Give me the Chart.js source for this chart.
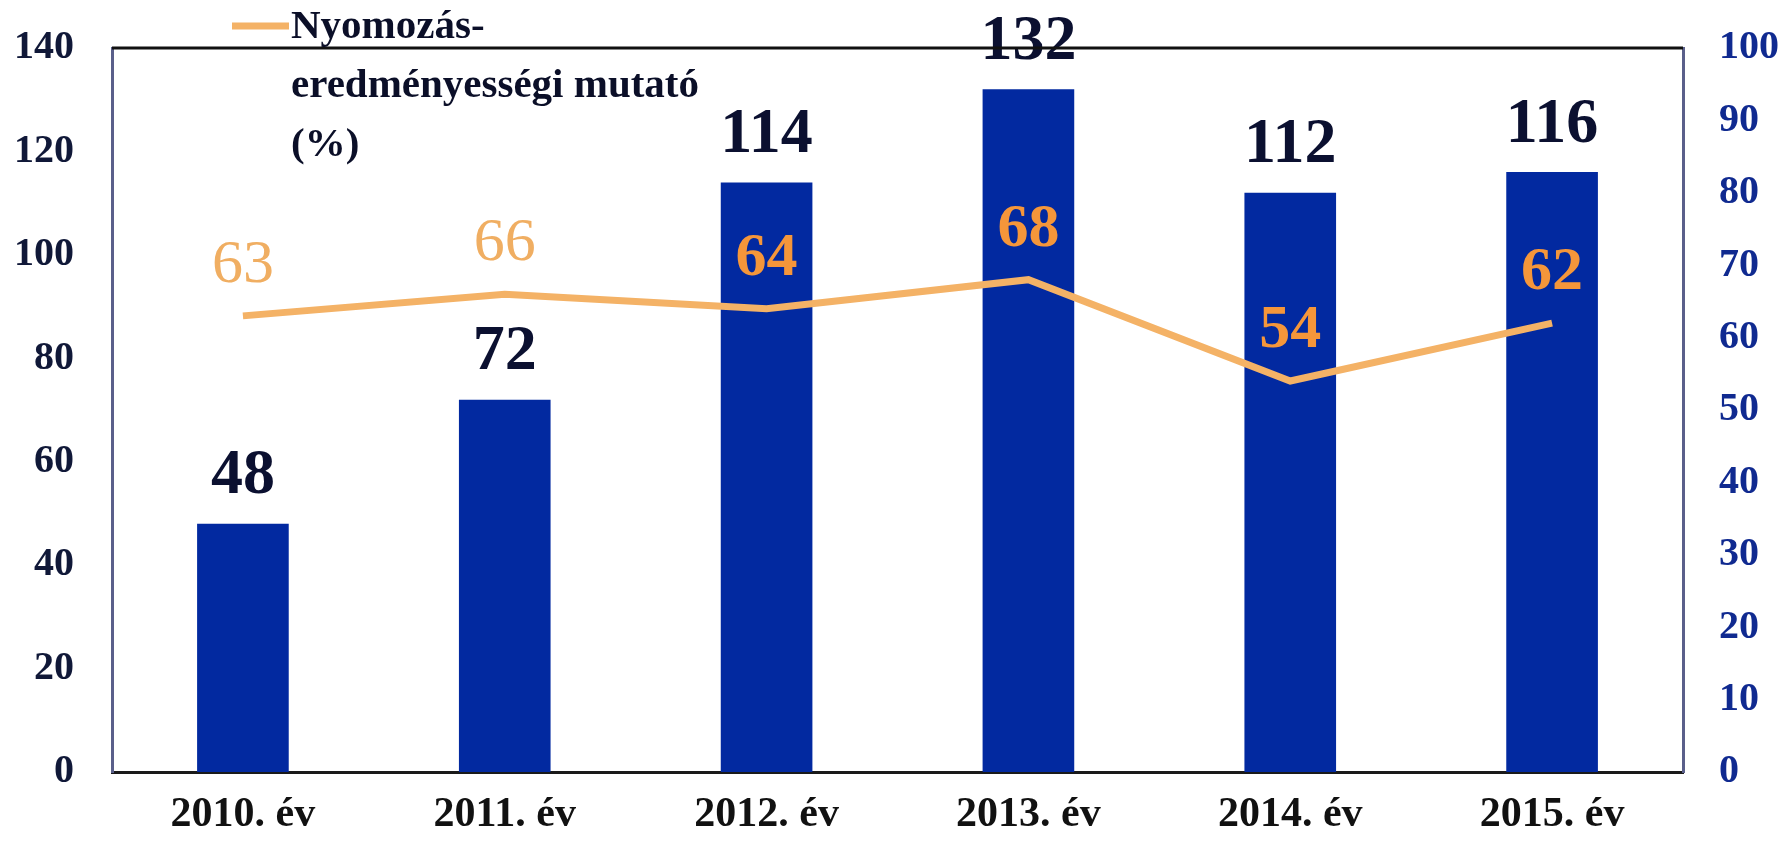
<!DOCTYPE html>
<html lang="hu">
<head>
<meta charset="utf-8">
<title>Nyomozás-eredményességi mutató</title>
<script src="https://cdn.jsdelivr.net/npm/chart.js@4"></script>
<style>
    html, body { margin: 0; padding: 0; background: #ffffff; }
    #wrap { position: relative; width: 1792px; height: 845px; }
</style>
</head>
<body>
<div id="wrap"><canvas id="chart"></canvas></div>
<script>
// Chart data
const years = ['2010. év', '2011. év', '2012. év', '2013. év', '2014. év', '2015. év'];
const caseCounts = [48, 72, 114, 132, 112, 116];
const successRate = [63, 66, 64, 68, 54, 62];
const leftTicks = [0, 20, 40, 60, 80, 100, 120, 140];
const rightTicks = [0, 10, 20, 30, 40, 50, 60, 70, 80, 90, 100];
const legendLines = ['Nyomozás-', 'eredményességi mutató', '(%)'];

const serif = "'Liberation Serif', 'Times New Roman', serif";
const barColor = '#0229a0';
const lineColor = '#f4b266';

// Value labels above bars and line points
const valueLabels = {
    id: 'valueLabels',
    afterDatasetsDraw(chart) {
        const ctx = chart.ctx;
        ctx.save();
        ctx.textAlign = 'center';
        ctx.textBaseline = 'middle';

        const bars = chart.getDatasetMeta(0).data;
        ctx.font = 'bold 64px ' + serif;
        ctx.fillStyle = '#0b1030';
        bars.forEach((bar, i) => {
            ctx.fillText(String(caseCounts[i]), bar.x, bar.y - 47);
        });

        const points = chart.getDatasetMeta(1).data;
        points.forEach((pt, i) => {
            // first two labels sit on white and look lighter in the original
            if (i < 2) {
                ctx.font = '62px ' + serif;
                ctx.fillStyle = '#f0ae62';
            } else {
                ctx.font = 'bold 62px ' + serif;
                ctx.fillStyle = '#f5963a';
            }
            ctx.fillText(String(successRate[i]), pt.x, pt.y - 50);
        });
        ctx.restore();
    }
};

// Top frame line and the legend inside the plot
const frameAndLegend = {
    id: 'frameAndLegend',
    afterDraw(chart) {
        const ctx = chart.ctx;
        const area = chart.chartArea;
        ctx.save();
        ctx.strokeStyle = '#111111';
        ctx.lineWidth = 3;
        ctx.beginPath();
        ctx.moveTo(area.left, area.top);
        ctx.lineTo(area.right, area.top);
        ctx.stroke();

        // legend sample line
        ctx.strokeStyle = lineColor;
        ctx.lineWidth = 7;
        ctx.beginPath();
        ctx.moveTo(232, 26);
        ctx.lineTo(289, 26);
        ctx.stroke();

        ctx.font = 'bold 41px ' + serif;
        ctx.fillStyle = '#0b0f28';
        ctx.textAlign = 'left';
        ctx.textBaseline = 'middle';
        legendLines.forEach((line, i) => {
            ctx.fillText(line, 291, 27 + i * 59);
        });
        ctx.restore();
    }
};

// keep the plot box where the original has it
function noLabelOverflow(scale) {
    scale.paddingTop = 0;
    scale.paddingBottom = 0;
}

const chart = new Chart(document.getElementById('chart'), {
    data: {
        labels: years,
        datasets: [
            {
                type: 'bar',
                label: 'Ügyek',
                data: caseCounts,
                backgroundColor: barColor,
                borderWidth: 0,
                barPercentage: 0.35,
                categoryPercentage: 1,
                yAxisID: 'y',
                order: 2
            },
            {
                type: 'line',
                label: 'Nyomozás-eredményességi mutató (%)',
                data: successRate,
                borderColor: lineColor,
                borderWidth: 7,
                pointRadius: 0,
                tension: 0,
                yAxisID: 'y1',
                order: 1
            }
        ]
    },
    options: {
        responsive: true,
        maintainAspectRatio: false,
        animation: false,
        layout: { padding: { top: 48, left: 0, right: 0, bottom: 0 } },
        plugins: {
            legend: { display: false },
            tooltip: { enabled: false }
        },
        scales: {
            x: {
                offset: true,
                grid: { display: false, drawTicks: false },
                border: { display: true, color: '#1a1a1a', width: 3 },
                ticks: {
                    color: '#111111',
                    padding: 18,
                    font: { family: serif, size: 42, weight: 'bold' }
                },
                afterFit(scale) {
                    scale.height = 73;
                    scale.paddingLeft = 0;
                    scale.paddingRight = 0;
                }
            },
            y: {
                position: 'left',
                min: 0,
                max: 140,
                afterBuildTicks(scale) { scale.ticks = leftTicks.map(v => ({ value: v })); },
                grid: { display: false, drawTicks: false },
                border: { display: true, color: '#5a5f8a', width: 3 },
                ticks: {
                    color: '#101838',
                    padding: 38,
                    font: { family: serif, size: 40, weight: 'bold' }
                },
                afterFit(scale) {
                    scale.width = 112;
                    noLabelOverflow(scale);
                }
            },
            y1: {
                position: 'right',
                min: 0,
                max: 100,
                afterBuildTicks(scale) { scale.ticks = rightTicks.map(v => ({ value: v })); },
                grid: { display: false, drawTicks: false },
                border: { display: true, color: '#5a5f8a', width: 3 },
                ticks: {
                    color: '#102a90',
                    padding: 36,
                    font: { family: serif, size: 40, weight: 'bold' }
                },
                afterFit(scale) {
                    scale.width = 109;
                    noLabelOverflow(scale);
                }
            }
        }
    },
    plugins: [valueLabels, frameAndLegend]
});
</script>
</body>
</html>
